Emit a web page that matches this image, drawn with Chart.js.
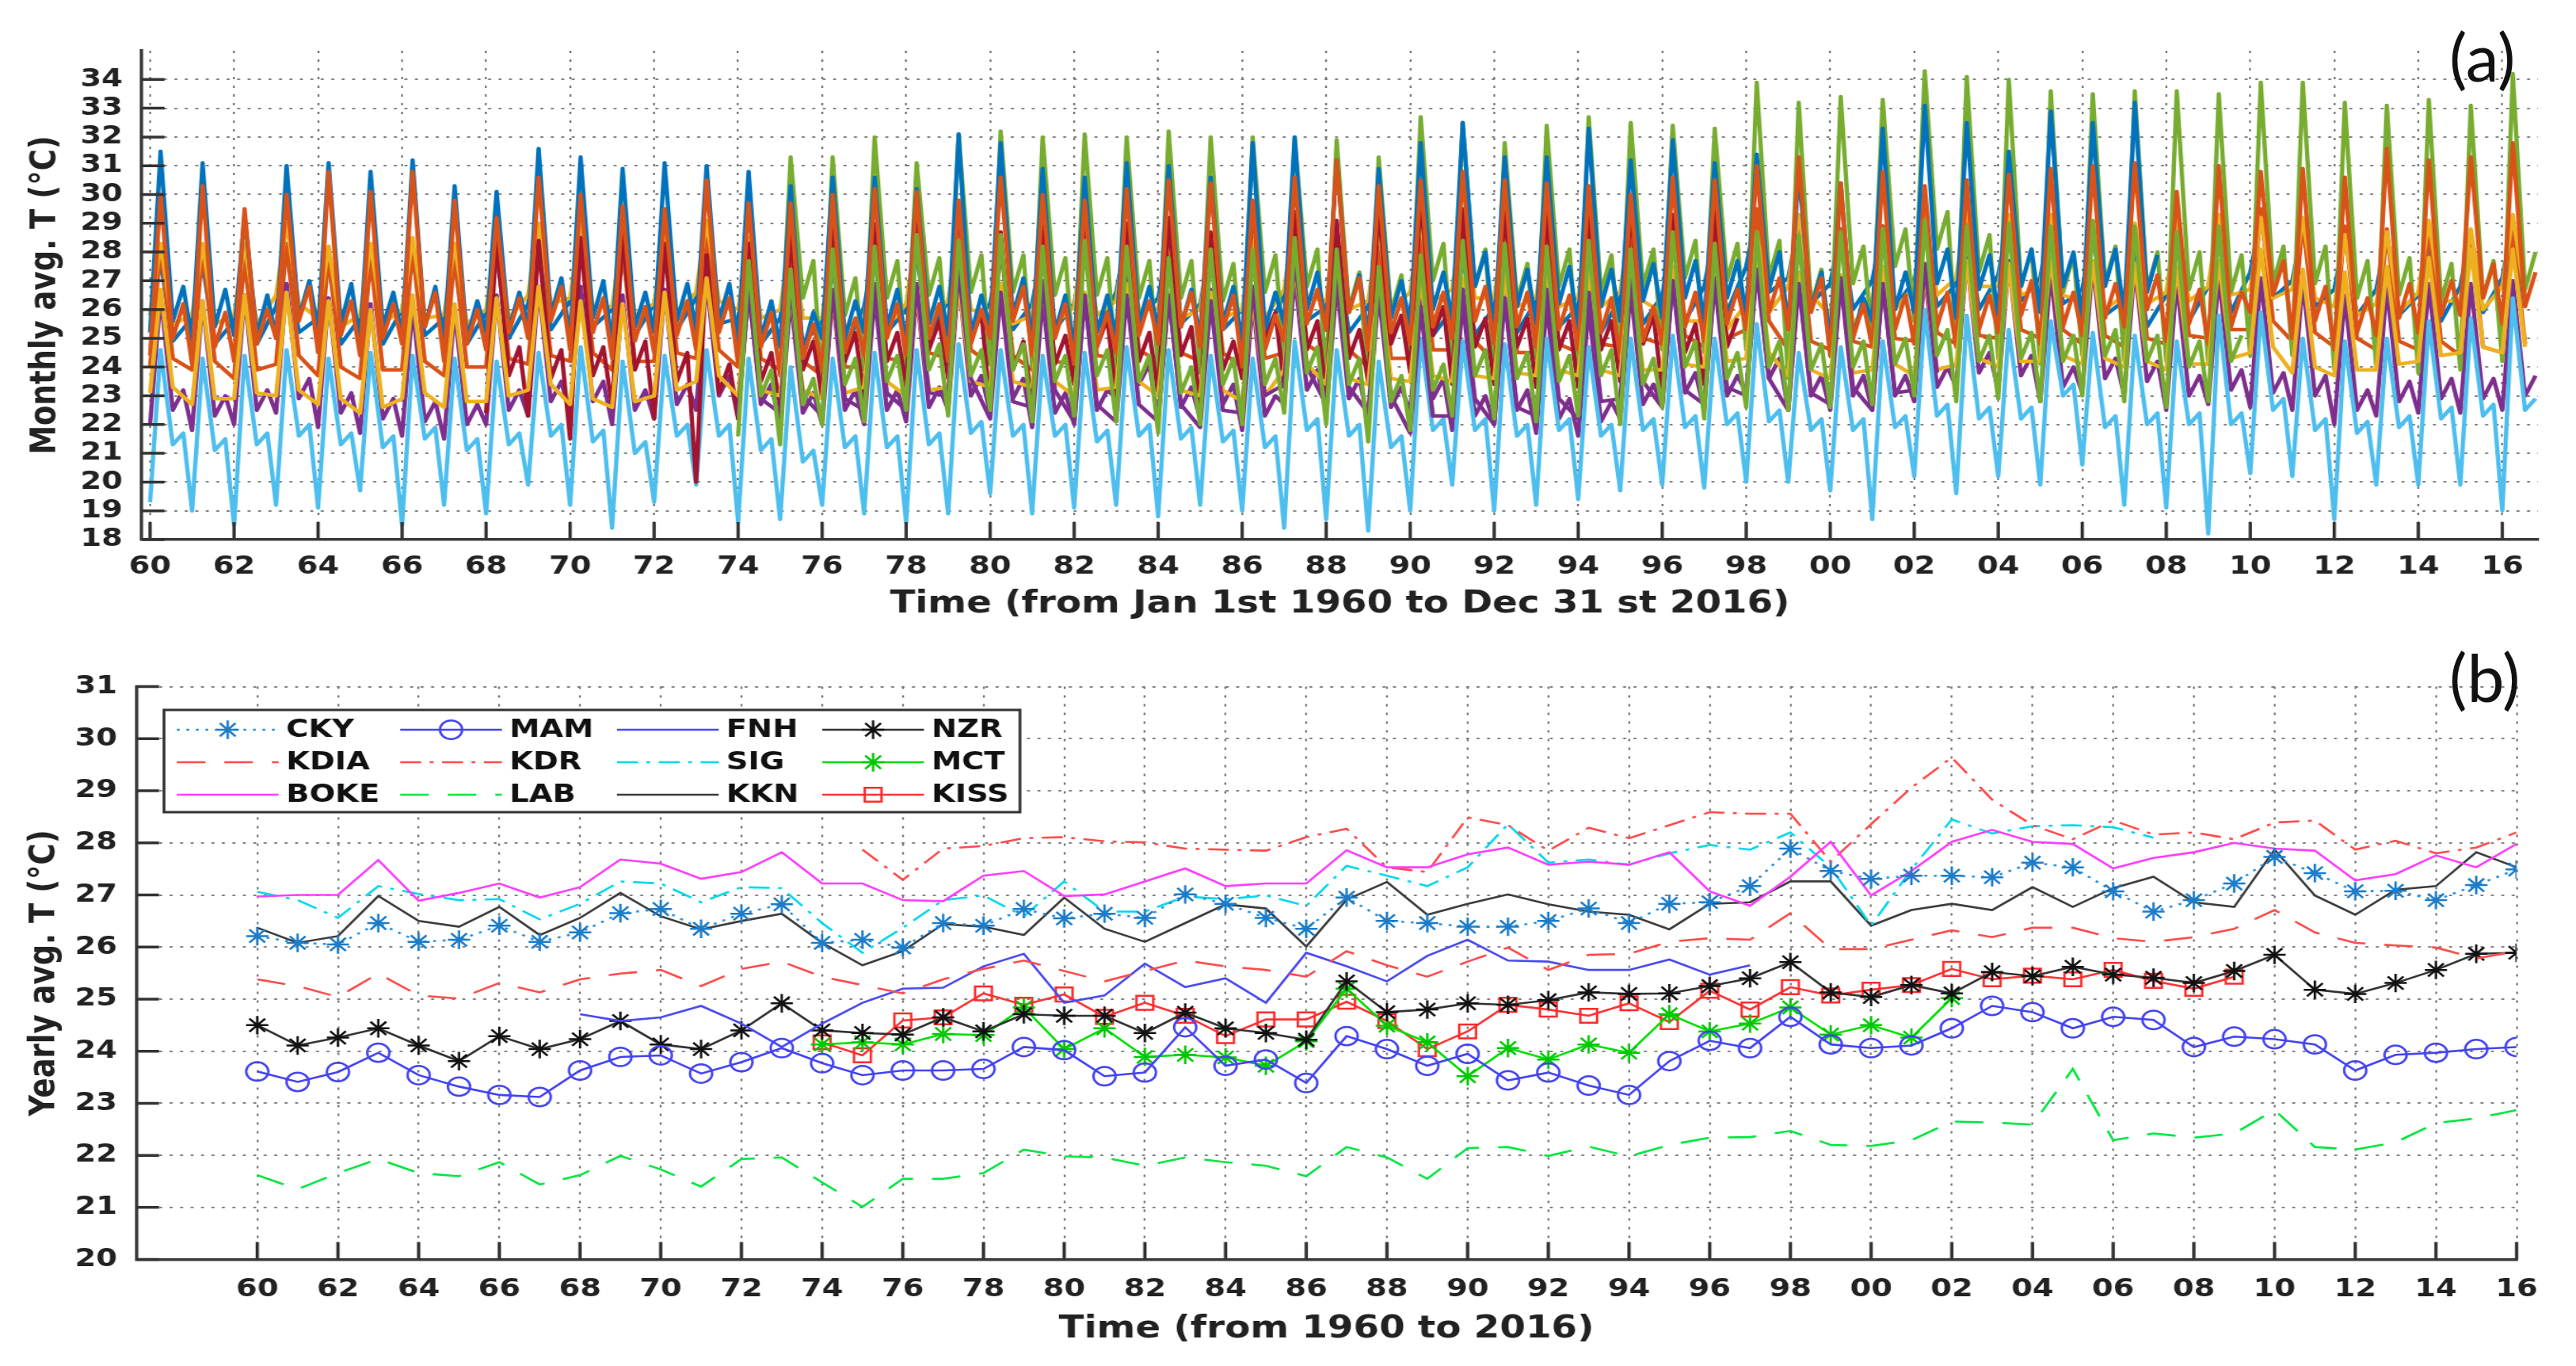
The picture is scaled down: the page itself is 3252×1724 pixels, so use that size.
<!DOCTYPE html>
<html>
<head>
<meta charset="utf-8">
<script src="https://cdn.jsdelivr.net/npm/chart.js@4.4.1/dist/chart.umd.min.js"></script>
<style>
html, body { margin: 0; padding: 0; background: #fff; }
#wrap { position: relative; width: 3252px; height: 1724px; overflow: hidden; background: #fff; }
canvas { position: absolute; left: 0; display: block; }
.tag { position: absolute; font-family: Lato, "Open Sans", sans-serif; font-size: 84px; line-height: 1; color: #111; }
</style>
</head>
<body>
<div id="wrap">
  <canvas id="ca" width="2710" height="800" style="top:0;width:3252px;height:800px"></canvas>
  <canvas id="cb" width="2710" height="924" style="top:800px;width:3252px;height:924px"></canvas>
  <div class="tag" style="left:3092px;top:29px">(a)</div>
  <div class="tag" style="left:3092px;top:812px">(b)</div>
</div>
<script>
// stations, in the order they were plotted
const stations = ['CKY', 'KDIA', 'BOKE', 'MAM', 'KDR', 'LAB', 'FNH', 'SIG', 'KKN', 'NZR', 'MCT', 'KISS']
const firstYear = [1960, 1960, 1960, 1960, 1975, 1960, 1968, 1960, 1960, 1960, 1974, 1974]

const tickYears = [1960, 1962, 1964, 1966, 1968, 1970, 1972, 1974, 1976, 1978, 1980, 1982, 1984, 1986, 1988,
  1990, 1992, 1994, 1996, 1998, 2000, 2002, 2004, 2006, 2008, 2010, 2012, 2014, 2016]
const tempTicksA = [18, 19, 20, 21, 22, 23, 24, 25, 26, 27, 28, 29, 30, 31, 32, 33, 34]
const tempTicksB = [20, 21, 22, 23, 24, 25, 26, 27, 28, 29, 30, 31]

// (b) yearly averages
const yrCKY = [26.21, 26.08, 26.05, 26.46, 26.10, 26.14, 26.41, 26.10, 26.28, 26.65,
  26.73, 26.35, 26.64, 26.82, 26.08, 26.14, 25.99, 26.46, 26.41, 26.73,
  26.55, 26.64, 26.56, 27.01, 26.83, 26.56, 26.35, 26.95, 26.50, 26.46,
  26.39, 26.39, 26.50, 26.74, 26.46, 26.83, 26.86, 27.17, 27.89, 27.46,
  27.31, 27.37, 27.37, 27.34, 27.62, 27.53, 27.07, 26.68, 26.90, 27.22,
  27.73, 27.42, 27.07, 27.08, 26.90, 27.19, 27.49]
const yrKDIA = [25.38, 25.25, 25.04, 25.49, 25.07, 25.01, 25.31, 25.13, 25.38, 25.49,
  25.56, 25.25, 25.58, 25.72, 25.43, 25.27, 25.11, 25.38, 25.58, 25.74,
  25.54, 25.34, 25.54, 25.74, 25.63, 25.56, 25.43, 25.92, 25.65, 25.43,
  25.72, 25.99, 25.56, 25.85, 25.87, 26.10, 26.17, 26.14, 26.65, 25.96,
  25.96, 26.14, 26.32, 26.19, 26.37, 26.37, 26.17, 26.10, 26.19, 26.35,
  26.71, 26.28, 26.08, 26.03, 25.99, 25.78, 25.92]
const yrBOKE = [26.97, 27.00, 27.00, 27.67, 26.89, 27.04, 27.22, 26.95, 27.15, 27.68,
  27.60, 27.31, 27.44, 27.82, 27.22, 27.22, 26.90, 26.88, 27.37, 27.46,
  26.98, 27.01, 27.26, 27.51, 27.17, 27.22, 27.22, 27.86, 27.53, 27.53,
  27.78, 27.91, 27.58, 27.64, 27.58, 27.82, 27.07, 26.79, 27.35, 28.02,
  26.99, 27.46, 28.02, 28.25, 28.02, 27.98, 27.51, 27.71, 27.82, 28.00,
  27.89, 27.85, 27.28, 27.40, 27.76, 27.53, 27.98]
const yrMAM = [23.61, 23.41, 23.60, 23.97, 23.54, 23.32, 23.16, 23.12, 23.63, 23.89,
  23.92, 23.57, 23.79, 24.06, 23.77, 23.54, 23.63, 23.63, 23.66, 24.08,
  24.02, 23.52, 23.59, 24.46, 23.72, 23.84, 23.39, 24.29, 24.04, 23.72,
  23.95, 23.44, 23.59, 23.34, 23.16, 23.81, 24.20, 24.06, 24.66, 24.13,
  24.06, 24.11, 24.44, 24.87, 24.75, 24.44, 24.66, 24.60, 24.08, 24.28,
  24.23, 24.13, 23.63, 23.93, 23.97, 24.04, 24.08]
const yrKDR = [27.87, 27.29, 27.89, 27.94, 28.09,
  28.11, 28.03, 28.01, 27.89, 27.87, 27.85, 28.11, 28.27, 27.53, 27.44,
  28.49, 28.34, 27.85, 28.29, 28.09, 28.34, 28.59, 28.56, 28.56, 27.64,
  28.36, 29.06, 29.64, 28.83, 28.34, 28.07, 28.43, 28.16, 28.20, 28.07,
  28.39, 28.43, 27.87, 28.04, 27.80, 27.91, 28.20]
const yrLAB = [21.62, 21.35, 21.66, 21.93, 21.66, 21.60, 21.87, 21.44, 21.62, 21.99,
  21.73, 21.40, 21.93, 21.96, 21.48, 21.01, 21.55, 21.55, 21.66, 22.11,
  21.98, 21.96, 21.80, 21.96, 21.87, 21.80, 21.60, 22.16, 21.96, 21.55,
  22.14, 22.16, 21.99, 22.17, 21.98, 22.20, 22.34, 22.35, 22.47, 22.20,
  22.18, 22.29, 22.65, 22.63, 22.59, 23.66, 22.29, 22.42, 22.34, 22.42,
  22.87, 22.16, 22.11, 22.25, 22.62, 22.71, 22.87]
const yrFNH = [24.71, 24.58,
  24.65, 24.87, 24.53, 24.08, 24.53, 24.93, 25.20, 25.22, 25.63, 25.87,
  24.93, 25.07, 25.68, 25.23, 25.40, 24.93, 25.89, 25.63, 25.34, 25.83,
  26.14, 25.74, 25.72, 25.56, 25.56, 25.76, 25.47, 25.65]
const yrSIG = [27.06, 26.90, 26.56, 27.17, 27.02, 26.90, 26.92, 26.53, 26.83, 27.26,
  27.22, 26.86, 27.15, 27.13, 26.46, 25.89, 26.37, 26.90, 26.99, 26.59,
  27.26, 26.68, 26.68, 26.97, 26.92, 26.99, 26.79, 27.56, 27.37, 27.17,
  27.53, 28.36, 27.62, 27.68, 27.58, 27.80, 27.96, 27.87, 28.20, 27.53,
  26.41, 27.49, 28.45, 28.18, 28.32, 28.34, 28.30, 28.10]
const yrKKN = [26.37, 26.08, 26.21, 26.98, 26.50, 26.39, 26.77, 26.23, 26.56, 27.04,
  26.59, 26.34, 26.50, 26.64, 26.08, 25.65, 25.92, 26.44, 26.39, 26.23,
  26.95, 26.35, 26.10, 26.46, 26.82, 26.74, 26.01, 26.91, 27.25, 26.62,
  26.83, 27.01, 26.82, 26.68, 26.62, 26.34, 26.83, 26.86, 27.26, 27.26,
  26.41, 26.71, 26.83, 26.71, 27.15, 26.77, 27.13, 27.35, 26.86, 26.77,
  27.87, 26.99, 26.62, 27.10, 27.17, 27.82, 27.53]
const yrNZR = [24.50, 24.11, 24.26, 24.44, 24.11, 23.81, 24.29, 24.04, 24.23, 24.58,
  24.13, 24.04, 24.40, 24.92, 24.40, 24.35, 24.32, 24.65, 24.38, 24.71,
  24.68, 24.68, 24.35, 24.74, 24.44, 24.35, 24.22, 25.34, 24.75, 24.80,
  24.92, 24.89, 24.98, 25.13, 25.10, 25.11, 25.25, 25.40, 25.71, 25.13,
  25.04, 25.27, 25.11, 25.52, 25.44, 25.62, 25.47, 25.41, 25.31, 25.54,
  25.85, 25.18, 25.10, 25.31, 25.56, 25.87, 25.89]
const yrMCT = [24.13, 24.17, 24.13, 24.33, 24.31, 24.84,
  24.04, 24.44, 23.89, 23.93, 23.88, 23.72, 24.19, 25.20, 24.49, 24.17,
  23.52, 24.06, 23.84, 24.13, 23.97, 24.71, 24.38, 24.53, 24.84, 24.32,
  24.50, 24.26, 25.02]
const yrKISS = [24.17, 23.92, 24.59, 24.65, 25.11, 24.89,
  25.09, 24.66, 24.93, 24.68, 24.29, 24.61, 24.61, 24.95, 24.58, 24.04,
  24.38, 24.89, 24.80, 24.68, 24.92, 24.56, 25.16, 24.80, 25.23, 25.07,
  25.18, 25.27, 25.58, 25.38, 25.45, 25.38, 25.56, 25.35, 25.20, 25.43]

// (a) monthly curve, read per year: January low, April peak, mid-year dip, October bump
const sampleMonths = [0, 3, 6.5, 9.5]

const lowCKY = [25.8, 25.7, 25.6, 26.1, 25.7, 25.7, 26.0, 25.7, 25.9, 26.2, 26.3, 26.0, 26.2, 26.4, 25.7, 25.7, 25.6, 26.1, 26.0, 26.3,
  26.2, 26.2, 26.2, 26.6, 26.4, 26.2, 26.0, 26.5, 26.1, 26.1, 26.0, 26.0, 26.1, 26.3, 26.1, 26.4, 26.5, 26.8, 27.5, 27.1,
  26.9, 27.0, 27.0, 26.9, 27.2, 27.1, 26.7, 26.3, 26.5, 26.8, 27.3, 27.0, 26.7, 26.7, 26.5, 26.8, 27.1]
const peakCKY = [27.7, 27.6, 27.5, 28.0, 27.6, 27.7, 27.9, 27.6, 27.8, 28.2, 28.2, 27.9, 28.1, 28.3, 27.6, 27.7, 27.5, 28.0, 27.9, 28.2,
  28.1, 28.1, 28.1, 28.5, 28.3, 28.1, 27.8, 28.5, 28.0, 28.0, 27.9, 27.9, 28.0, 28.2, 28.0, 28.3, 28.4, 28.7, 29.4, 29.0,
  28.8, 28.9, 28.9, 28.8, 29.1, 29.0, 28.6, 28.2, 28.4, 28.7, 29.2, 28.9, 28.6, 28.6, 28.4, 28.7, 29.0]
const dipCKY = [24.9, 24.8, 24.8, 25.2, 24.8, 24.8, 25.1, 24.8, 25.0, 25.3, 25.4, 25.1, 25.3, 25.5, 24.8, 24.8, 24.7, 25.2, 25.1, 25.4,
  25.3, 25.3, 25.3, 25.7, 25.5, 25.3, 25.1, 25.6, 25.2, 25.2, 25.1, 25.1, 25.2, 25.4, 25.2, 25.5, 25.6, 25.9, 26.6, 26.2,
  26.0, 26.1, 26.1, 26.0, 26.3, 26.2, 25.8, 25.4, 25.6, 25.9, 26.4, 26.1, 25.8, 25.8, 25.6, 25.9, 26.2]

const lowKDIA = [24.0, 23.9, 23.6, 24.1, 23.7, 23.6, 23.9, 23.7, 24.0, 24.1, 24.2, 23.9, 24.2, 24.3, 24.0, 23.9, 23.7, 24.0, 24.2, 24.3,
  24.1, 23.9, 24.1, 24.3, 24.2, 24.2, 24.0, 24.5, 24.3, 24.0, 24.3, 24.6, 24.2, 24.5, 24.5, 24.7, 24.8, 24.7, 25.3, 24.6,
  24.6, 24.7, 24.9, 24.8, 25.0, 25.0, 24.8, 24.7, 24.8, 25.0, 25.3, 24.9, 24.7, 24.6, 24.6, 24.4, 24.5]
const peakKDIA = [28.2, 28.1, 27.8, 28.3, 27.9, 27.8, 28.1, 27.9, 28.2, 28.3, 28.4, 28.1, 28.4, 28.5, 28.2, 28.1, 27.9, 28.2, 28.4, 28.5,
  28.3, 28.1, 28.3, 28.5, 28.4, 28.4, 28.2, 28.7, 28.5, 28.2, 28.5, 28.8, 28.4, 28.7, 28.7, 28.9, 29.0, 28.9, 29.5, 28.8,
  28.8, 28.9, 29.1, 29.0, 29.2, 29.2, 29.0, 28.9, 29.0, 29.2, 29.5, 29.1, 28.9, 28.8, 28.8, 28.6, 28.7]
const dipKDIA = [24.3, 24.2, 23.9, 24.4, 24.0, 23.9, 24.2, 24.0, 24.3, 24.4, 24.5, 24.2, 24.5, 24.6, 24.3, 24.2, 24.0, 24.3, 24.5, 24.6,
  24.4, 24.2, 24.4, 24.6, 24.5, 24.5, 24.3, 24.8, 24.6, 24.3, 24.6, 24.9, 24.5, 24.8, 24.8, 25.0, 25.1, 25.0, 25.6, 24.9,
  24.9, 25.0, 25.2, 25.1, 25.3, 25.3, 25.1, 25.0, 25.1, 25.3, 25.6, 25.2, 25.0, 24.9, 24.9, 24.7, 24.8]

const lowBOKE = [25.8, 25.8, 25.8, 26.5, 25.7, 25.8, 26.0, 25.8, 26.0, 26.5, 26.4, 26.1, 26.2, 26.6, 26.0, 26.0, 25.7, 25.7, 26.2, 26.3,
  25.8, 25.8, 26.1, 26.3, 26.0, 26.0, 26.0, 26.7, 26.3, 26.3, 26.6, 26.7, 26.4, 26.4, 26.4, 26.6, 25.9, 25.6, 26.2, 26.8,
  25.8, 26.3, 26.8, 27.1, 26.8, 26.8, 26.3, 26.5, 26.6, 26.8, 26.7, 26.7, 26.1, 26.2, 26.6, 26.3, 26.8]
const peakBOKE = [28.3, 28.3, 28.3, 29.0, 28.2, 28.3, 28.5, 28.3, 28.5, 29.0, 28.9, 28.6, 28.7, 29.1, 28.5, 28.5, 28.2, 28.2, 28.7, 28.8,
  28.3, 28.3, 28.6, 28.8, 28.5, 28.5, 28.5, 29.2, 28.8, 28.8, 29.1, 29.2, 28.9, 28.9, 28.9, 29.1, 28.4, 28.1, 28.7, 29.3,
  28.3, 28.8, 29.3, 29.6, 29.3, 29.3, 28.8, 29.0, 29.1, 29.3, 29.2, 29.2, 28.6, 28.7, 29.1, 28.8, 29.3]
const dipBOKE = [25.5, 25.5, 25.5, 26.2, 25.4, 25.5, 25.7, 25.5, 25.7, 26.2, 26.1, 25.8, 25.9, 26.3, 25.7, 25.7, 25.4, 25.4, 25.9, 26.0,
  25.5, 25.5, 25.8, 26.0, 25.7, 25.7, 25.7, 26.4, 26.0, 26.0, 26.3, 26.4, 26.1, 26.1, 26.1, 26.3, 25.6, 25.3, 25.9, 26.5,
  25.5, 26.0, 26.5, 26.8, 26.5, 26.5, 26.0, 26.2, 26.3, 26.5, 26.4, 26.4, 25.8, 25.9, 26.3, 26.0, 26.5]

const lowMAM = [22.0, 21.8, 22.0, 22.4, 21.9, 21.7, 21.6, 21.5, 22.0, 22.3, 22.3, 22.0, 22.2, 22.5, 22.2, 21.9, 22.0, 22.0, 22.1, 22.5,
  22.4, 21.9, 22.0, 22.9, 22.1, 22.2, 21.8, 22.7, 22.4, 22.1, 22.4, 21.8, 22.0, 21.7, 21.6, 22.2, 22.6, 22.5, 23.1, 22.5,
  22.5, 22.5, 22.8, 23.3, 23.2, 22.8, 23.1, 23.0, 22.5, 22.7, 22.6, 22.5, 22.0, 22.3, 22.4, 22.4, 22.5]
const peakMAM = [26.5, 26.3, 26.5, 26.9, 26.4, 26.2, 26.1, 26.0, 26.5, 26.8, 26.8, 26.5, 26.7, 27.0, 26.7, 26.4, 26.5, 26.5, 26.6, 27.0,
  26.9, 26.4, 26.5, 27.4, 26.6, 26.7, 26.3, 27.2, 26.9, 26.6, 26.9, 26.3, 26.5, 26.2, 26.1, 26.7, 27.1, 27.0, 27.6, 27.0,
  27.0, 27.0, 27.3, 27.8, 27.7, 27.3, 27.6, 27.5, 27.0, 27.2, 27.1, 27.0, 26.5, 26.8, 26.9, 26.9, 27.0]
const dipMAM = [22.5, 22.3, 22.5, 22.9, 22.4, 22.2, 22.1, 22.0, 22.5, 22.8, 22.8, 22.5, 22.7, 23.0, 22.7, 22.4, 22.5, 22.5, 22.6, 23.0,
  22.9, 22.4, 22.5, 23.4, 22.6, 22.7, 22.3, 23.2, 22.9, 22.6, 22.9, 22.3, 22.5, 22.2, 22.1, 22.7, 23.1, 23.0, 23.6, 23.0,
  23.0, 23.0, 23.3, 23.8, 23.7, 23.3, 23.6, 23.5, 23.0, 23.2, 23.1, 23.0, 22.5, 22.8, 22.9, 22.9, 23.0]
const bumpMAM = [23.2, 23.0, 23.2, 23.6, 23.1, 22.9, 22.8, 22.7, 23.2, 23.5, 23.5, 23.2, 23.4, 23.7, 23.4, 23.1, 23.2, 23.2, 23.3, 23.7,
  23.6, 23.1, 23.2, 24.1, 23.3, 23.4, 23.0, 23.9, 23.6, 23.3, 23.6, 23.0, 23.2, 22.9, 22.8, 23.4, 23.8, 23.7, 24.3, 23.7,
  23.7, 23.7, 24.0, 24.5, 24.4, 24.0, 24.3, 24.2, 23.7, 23.9, 23.8, 23.7, 23.2, 23.5, 23.6, 23.6, 23.7]

const lowKDR = [23.9, 23.3, 23.9, 24.0, 24.1,
  24.1, 24.0, 24.0, 23.9, 23.9, 23.8, 24.1, 24.3, 23.5, 23.4, 24.5, 24.3, 23.8, 24.3, 24.1, 24.3, 24.6, 24.5, 24.6, 23.6,
  24.4, 25.0, 25.6, 24.8, 24.3, 24.1, 24.4, 24.2, 24.2, 24.1, 24.4, 24.4, 23.9, 24.0, 23.8, 23.9, 24.2]
const peakKDR = [31.3, 31.3, 32.0, 31.1, 32.1,
  32.2, 32.0, 32.1, 32.0, 32.2, 32.0, 32.0, 32.0, 31.9, 31.3, 32.7, 32.5, 31.8, 32.4, 32.7, 32.5, 32.4, 32.3, 33.9, 33.2,
  33.4, 33.3, 34.3, 34.1, 34.0, 33.6, 33.5, 33.6, 33.6, 33.5, 33.9, 33.9, 33.2, 33.1, 33.3, 33.1, 34.2]
const dipKDR = [26.4, 25.8, 26.4, 26.5, 26.6,
  26.6, 26.5, 26.5, 26.4, 26.4, 26.3, 26.6, 26.8, 26.0, 25.9, 27.0, 26.8, 26.3, 26.8, 26.6, 26.8, 27.1, 27.0, 27.1, 26.1,
  26.9, 27.5, 28.1, 27.3, 26.8, 26.6, 26.9, 26.7, 26.7, 26.6, 26.9, 26.9, 26.4, 26.5, 26.3, 26.4, 26.7]
const bumpKDR = [27.7, 27.1, 27.7, 27.8, 27.9,
  27.9, 27.8, 27.8, 27.7, 27.7, 27.6, 27.9, 28.1, 27.3, 27.2, 28.3, 28.1, 27.6, 28.1, 27.9, 28.1, 28.4, 28.3, 28.4, 27.4,
  28.2, 28.8, 29.4, 28.6, 28.1, 27.9, 28.2, 28.0, 28.0, 27.9, 28.2, 28.2, 27.7, 27.8, 27.6, 27.7, 28.0]

const lowLAB = [19.3, 19.0, 18.5, 19.2, 19.1, 19.7, 18.5, 19.2, 18.9, 19.9, 19.2, 18.4, 19.3, 19.9, 18.6, 18.7, 19.2, 18.9, 18.6, 18.9,
  19.6, 18.9, 19.1, 19.2, 18.8, 19.2, 19.0, 18.4, 18.7, 18.3, 19.0, 19.9, 19.0, 19.2, 19.4, 19.7, 19.9, 19.8, 20.0, 20.0,
  19.7, 18.7, 20.2, 19.6, 20.2, 19.9, 20.6, 19.2, 19.1, 18.2, 20.3, 20.2, 18.7, 19.9, 19.9, 19.9, 19.0]
const peakLAB = [24.6, 24.3, 24.4, 24.6, 24.3, 24.5, 24.4, 24.3, 24.2, 24.5, 24.7, 24.2, 24.4, 24.6, 24.3, 24.0, 24.3, 24.5, 24.6, 24.8,
  24.6, 24.4, 24.5, 24.7, 24.6, 24.4, 24.3, 24.9, 24.6, 24.2, 25.0, 24.9, 24.8, 25.0, 24.7, 25.0, 25.1, 25.0, 25.5, 24.5,
  24.7, 24.9, 26.0, 25.8, 25.3, 25.6, 25.2, 25.1, 24.9, 25.8, 25.9, 25.0, 24.9, 25.0, 25.6, 25.7, 26.4]
const dipLAB = [21.3, 21.1, 21.3, 21.6, 21.3, 21.2, 21.5, 21.1, 21.3, 21.6, 21.4, 21.0, 21.6, 21.6, 21.1, 20.7, 21.2, 21.2, 21.3, 21.7,
  21.6, 21.6, 21.4, 21.6, 21.5, 21.4, 21.2, 21.8, 21.6, 21.2, 21.8, 21.8, 21.6, 21.8, 21.6, 21.8, 21.9, 22.0, 22.1, 21.8,
  21.8, 21.9, 22.3, 22.2, 22.2, 23.0, 21.9, 22.0, 22.0, 22.0, 22.5, 21.8, 21.7, 21.9, 22.2, 22.3, 22.5]
const bumpLAB = [21.7, 21.5, 21.7, 22.0, 21.7, 21.6, 21.9, 21.5, 21.7, 22.0, 21.8, 21.4, 22.0, 22.0, 21.5, 21.1, 21.6, 21.6, 21.7, 22.1,
  22.0, 22.0, 21.8, 22.0, 21.9, 21.8, 21.6, 22.2, 22.0, 21.6, 22.2, 22.2, 22.0, 22.2, 22.0, 22.2, 22.3, 22.4, 22.5, 22.2,
  22.2, 22.3, 22.7, 22.6, 22.6, 23.4, 22.3, 22.4, 22.4, 22.4, 22.9, 22.2, 22.1, 22.3, 22.6, 22.7, 22.9]

const lowFNH = [22.4, 22.3,
  21.5, 22.6, 22.2, 20.0, 22.2, 22.6, 22.9, 22.9, 23.3, 23.6, 22.6, 22.8, 23.4, 22.9, 23.1, 22.6, 23.6, 23.3, 23.0, 23.5,
  23.8, 23.4, 23.4, 23.3, 23.3, 23.5, 23.2, 23.4]
const peakFNH = [28.5, 28.4,
  28.5, 28.7, 28.3, 27.9, 28.3, 28.7, 29.0, 29.0, 29.4, 29.7, 28.7, 28.9, 29.5, 29.0, 29.2, 28.7, 29.7, 29.4, 29.1, 29.6,
  29.9, 29.5, 29.5, 29.4, 29.4, 29.6, 29.3, 29.5]
const dipFNH = [23.7, 23.6,
  23.7, 23.9, 23.5, 23.1, 23.5, 23.9, 24.2, 24.2, 24.6, 24.9, 23.9, 24.1, 24.7, 24.2, 24.4, 23.9, 24.9, 24.6, 24.3, 24.8,
  25.1, 24.7, 24.7, 24.6, 24.6, 24.8, 24.5, 24.7]
const bumpFNH = [24.7, 24.6,
  24.7, 24.9, 24.5, 24.1, 24.5, 24.9, 25.2, 25.2, 25.6, 25.9, 24.9, 25.1, 25.7, 25.2, 25.4, 24.9, 25.9, 25.6, 25.3, 25.8,
  26.1, 25.7, 25.7, 25.6, 25.6, 25.8, 25.5, 25.7]

const lowSIG = [25.2, 24.9, 25.1, 25.0, 25.3, 24.8, 25.1, 24.9, 25.2, 25.4, 25.0, 24.8, 25.2, 25.3, 24.9, 24.7, 25.0, 25.2, 24.8, 25.1,
  25.3, 24.9, 24.6, 25.0, 25.2, 25.0, 24.8, 25.5, 25.3, 25.0, 25.4, 25.6, 25.2, 25.5, 25.3, 25.6, 25.7, 25.5, 25.8, 25.4,
  24.9, 25.6, 25.9, 25.7, 25.8, 25.9, 25.6, 25.8]
const peakSIG = [31.5, 31.1, 29.3, 31.0, 31.1, 30.8, 31.2, 30.3, 30.1, 31.6, 31.3, 30.9, 31.1, 31.0, 30.8, 30.3, 30.6, 30.6, 30.2, 32.1,
  31.8, 30.9, 30.6, 31.1, 31.0, 30.6, 31.8, 32.0, 31.2, 30.9, 31.8, 32.5, 31.3, 31.3, 32.3, 31.2, 31.9, 31.1, 31.4, 30.8,
  30.4, 32.3, 33.1, 32.5, 31.5, 32.9, 32.5, 33.2]
const dipSIG = [25.6, 25.4, 25.1, 25.7, 25.5, 25.4, 25.4, 25.0, 25.3, 25.8, 25.7, 25.4, 25.6, 25.6, 25.0, 24.5, 25.0, 25.4, 25.5, 25.1,
  25.8, 25.2, 25.2, 25.5, 25.4, 25.5, 25.3, 26.0, 25.9, 25.7, 26.0, 26.8, 26.1, 26.2, 26.1, 26.3, 26.4, 26.4, 26.7, 26.0,
  25.0, 26.0, 26.9, 26.7, 26.8, 26.8, 26.8, 26.6]
const bumpSIG = [26.8, 26.7, 26.5, 27.0, 26.9, 26.6, 26.8, 26.3, 26.6, 27.1, 27.0, 26.6, 26.9, 26.9, 26.3, 25.9, 26.3, 26.7, 26.8, 26.5,
  27.1, 26.5, 26.5, 26.8, 26.7, 26.8, 26.6, 27.3, 27.2, 27.0, 27.3, 28.0, 27.4, 27.5, 27.4, 27.6, 27.7, 27.7, 28.0, 27.3,
  26.4, 27.3, 28.1, 27.9, 28.1, 28.0, 28.1, 27.9]

const lowKKN = [24.4, 24.1, 24.2, 25.0, 24.5, 24.4, 24.8, 24.2, 24.6, 25.0, 24.6, 24.3, 24.5, 24.6, 24.1, 23.7, 23.9, 24.4, 24.4, 24.2,
  25.0, 24.4, 24.1, 24.5, 24.8, 24.7, 24.0, 24.9, 25.3, 24.6, 24.8, 25.0, 24.8, 24.7, 24.6, 24.3, 24.8, 24.9, 25.3, 25.3,
  24.4, 24.7, 24.8, 24.7, 25.2, 24.8, 25.1, 25.4, 24.9, 24.8, 25.9, 25.0, 24.6, 25.1, 25.2, 25.8, 25.5]
const peakKKN = [30.0, 30.3, 29.5, 30.0, 30.8, 30.1, 30.8, 29.8, 29.2, 30.6, 30.0, 29.6, 29.5, 30.5, 29.7, 29.7, 30.0, 30.2, 30.1, 29.8,
  30.6, 30.0, 29.8, 30.2, 30.5, 30.4, 29.8, 30.6, 31.2, 30.3, 30.5, 30.8, 30.5, 30.4, 30.3, 30.0, 30.6, 30.5, 31.0, 31.3,
  30.4, 30.8, 30.3, 30.5, 30.7, 30.9, 31.0, 31.1, 30.1, 31.0, 30.8, 30.9, 30.6, 31.6, 31.2, 31.3, 31.8]
const dipKKN = [25.0, 24.7, 24.8, 25.6, 25.1, 25.0, 25.4, 24.8, 25.2, 25.6, 25.2, 24.9, 25.1, 25.2, 24.7, 24.3, 24.5, 25.0, 25.0, 24.8,
  25.6, 25.0, 24.7, 25.1, 25.4, 25.3, 24.6, 25.5, 25.9, 25.2, 25.4, 25.6, 25.4, 25.3, 25.2, 24.9, 25.4, 25.5, 25.9, 25.9,
  25.0, 25.3, 25.4, 25.3, 25.8, 25.4, 25.7, 26.0, 25.5, 25.4, 26.5, 25.6, 25.2, 25.7, 25.8, 26.4, 26.1]
const bumpKKN = [26.2, 25.9, 26.0, 26.8, 26.3, 26.2, 26.6, 26.0, 26.4, 26.8, 26.4, 26.1, 26.3, 26.4, 25.9, 25.5, 25.7, 26.2, 26.2, 26.0,
  26.8, 26.2, 25.9, 26.3, 26.6, 26.5, 25.8, 26.7, 27.1, 26.4, 26.6, 26.8, 26.6, 26.5, 26.4, 26.1, 26.6, 26.7, 27.1, 27.1,
  26.2, 26.5, 26.6, 26.5, 27.0, 26.6, 26.9, 27.2, 26.7, 26.6, 27.7, 26.8, 26.4, 26.9, 27.0, 27.6, 27.3]

const lowNZR = [23.1, 22.7, 22.9, 23.0, 22.7, 22.4, 22.9, 22.6, 22.8, 23.2, 22.7, 22.6, 23.0, 23.5, 23.0, 23.0, 22.9, 23.3, 23.0, 23.3,
  23.3, 23.3, 23.0, 23.3, 23.0, 23.0, 22.8, 23.9, 23.4, 23.4, 23.5, 23.5, 23.6, 23.7, 23.7, 23.7, 23.9, 24.0, 24.3, 23.7,
  23.6, 23.9, 23.7, 24.1, 24.0, 24.2, 24.1, 24.0, 23.9, 24.1, 24.5, 23.8, 23.7, 23.9, 24.2, 24.5, 24.5]
const peakNZR = [26.7, 26.3, 26.5, 26.6, 26.3, 26.0, 26.5, 26.2, 26.4, 26.8, 26.3, 26.2, 26.6, 27.1, 26.6, 26.6, 26.5, 26.9, 26.6, 26.9,
  26.9, 26.9, 26.6, 26.9, 26.6, 26.6, 26.4, 27.5, 27.0, 27.0, 27.1, 27.1, 27.2, 27.3, 27.3, 27.3, 27.5, 27.6, 27.9, 27.3,
  27.2, 27.5, 27.3, 27.7, 27.6, 27.8, 27.7, 27.6, 27.5, 27.7, 28.1, 27.4, 27.3, 27.5, 27.8, 28.1, 28.1]
const dipNZR = [23.3, 22.9, 23.1, 23.2, 22.9, 22.6, 23.1, 22.8, 23.0, 23.4, 22.9, 22.8, 23.2, 23.7, 23.2, 23.2, 23.1, 23.5, 23.2, 23.5,
  23.5, 23.5, 23.2, 23.5, 23.2, 23.2, 23.0, 24.1, 23.6, 23.6, 23.7, 23.7, 23.8, 23.9, 23.9, 23.9, 24.1, 24.2, 24.5, 23.9,
  23.8, 24.1, 23.9, 24.3, 24.2, 24.4, 24.3, 24.2, 24.1, 24.3, 24.7, 24.0, 23.9, 24.1, 24.4, 24.7, 24.7]

const lowMCT = [22.3, 22.4, 22.3, 22.5, 22.5, 23.0,
  22.2, 22.6, 22.1, 22.1, 22.1, 21.9, 22.4, 23.4, 22.7, 22.4, 21.7, 22.3, 22.0, 22.3, 22.2, 22.9, 22.6, 22.7, 23.0, 22.5,
  22.7, 22.5, 23.2]
const peakMCT = [26.7, 26.8, 26.7, 26.9, 26.9, 27.4,
  26.6, 27.0, 26.5, 26.5, 26.5, 26.3, 26.8, 27.8, 27.1, 26.8, 26.1, 26.7, 26.4, 26.7, 26.6, 27.3, 27.0, 27.1, 27.4, 26.9,
  27.1, 26.9, 27.6]
const dipMCT = [22.9, 23.0, 22.9, 23.1, 23.1, 23.6,
  22.8, 23.2, 22.7, 22.7, 22.7, 22.5, 23.0, 24.0, 23.3, 23.0, 22.3, 22.9, 22.6, 22.9, 22.8, 23.5, 23.2, 23.3, 23.6, 23.1,
  23.3, 23.1, 23.8]

const lowKISS = [21.6, 21.3, 22.0, 22.1, 22.5, 22.3,
  22.5, 22.1, 22.3, 22.1, 21.7, 22.0, 22.0, 22.4, 22.0, 21.4, 21.8, 22.3, 22.2, 22.1, 22.3, 22.0, 22.6, 22.2, 22.6, 22.5,
  22.6, 22.7, 23.0, 22.8, 22.9, 22.8, 23.0, 22.8, 22.6, 22.8]
const peakKISS = [27.7, 27.4, 28.1, 28.2, 28.6, 28.4,
  28.6, 28.2, 28.4, 28.2, 27.8, 28.1, 28.1, 28.5, 28.1, 27.5, 27.9, 28.4, 28.3, 28.2, 28.4, 28.1, 28.7, 28.3, 28.7, 28.6,
  28.7, 28.8, 29.1, 28.9, 29.0, 28.9, 29.1, 28.9, 28.7, 28.9]
const dipKISS = [23.0, 22.7, 23.4, 23.5, 23.9, 23.7,
  23.9, 23.5, 23.7, 23.5, 23.1, 23.4, 23.4, 23.8, 23.4, 22.8, 23.2, 23.7, 23.6, 23.5, 23.7, 23.4, 24.0, 23.6, 24.0, 23.9,
  24.0, 24.1, 24.4, 24.2, 24.3, 24.2, 24.4, 24.2, 24.0, 24.2]
const bumpKISS = [23.9, 23.6, 24.3, 24.4, 24.8, 24.6,
  24.8, 24.4, 24.6, 24.4, 24.0, 24.3, 24.3, 24.7, 24.3, 23.7, 24.1, 24.6, 24.5, 24.4, 24.6, 24.3, 24.9, 24.5, 24.9, 24.8,
  24.9, 25.0, 25.3, 25.1, 25.2, 25.1, 25.3, 25.1, 24.9, 25.1]

const yearly = [yrCKY, yrKDIA, yrBOKE, yrMAM, yrKDR, yrLAB, yrFNH, yrSIG, yrKKN, yrNZR, yrMCT, yrKISS]
const lows = [lowCKY, lowKDIA, lowBOKE, lowMAM, lowKDR, lowLAB, lowFNH, lowSIG, lowKKN, lowNZR, lowMCT, lowKISS]
const peaks = [peakCKY, peakKDIA, peakBOKE, peakMAM, peakKDR, peakLAB, peakFNH, peakSIG, peakKKN, peakNZR, peakMCT, peakKISS]
const dips = [dipCKY, dipKDIA, dipBOKE, dipMAM, dipKDR, dipLAB, dipFNH, dipSIG, dipKKN, dipNZR, dipMCT, dipKISS]
const bumps = [null, null, null, bumpMAM, bumpKDR, bumpLAB, bumpFNH, bumpSIG, bumpKKN, null, null, bumpKISS]

// matlab default colour order for panel (a)
const matlabColors = ['#0072BD', '#D95319', '#EDB120', '#7E2F8E', '#77AC30', '#4DBEEE', '#A2142F']

// line styles of panel (b)
const styleB = {
    CKY:  {color: '#2a8fd8', dash: [3, 7], marker: 'star', markColor: '#1c7cc8'},
    KDIA: {color: '#ff4b4b', dash: [30, 20]},
    BOKE: {color: '#ff3dff', dash: []},
    MAM:  {color: '#4343f4', dash: [], marker: 'circle', markColor: '#4343f4'},
    KDR:  {color: '#ff4b4b', dash: [22, 9, 4, 9]},
    LAB:  {color: '#00e640', dash: [30, 20]},
    FNH:  {color: '#4a4af2', dash: []},
    SIG:  {color: '#00d8ec', dash: [22, 9, 4, 9]},
    KKN:  {color: '#3c3c3c', dash: []},
    NZR:  {color: '#333333', dash: [], marker: 'star', markColor: '#111111'},
    MCT:  {color: '#00e000', dash: [], marker: 'star', markColor: '#00c800'},
    KISS: {color: '#ff3333', dash: [], marker: 'rect', markColor: '#ff2a2a'}
}

function seasonal(first, low, peak, dip, bump) {
    const pts = []
    low.forEach((v, i) => {
        const yr = first + i
        const vals = bump ? [v, peak[i], dip[i], bump[i]] : [v, peak[i], dip[i]]
        vals.forEach((t, k) => pts.push({x: yr + sampleMonths[k] / 12, y: t}))
    })
    return pts
}

const tickFont = {family: 'DejaVu Sans', weight: 'bold', size: 32}

// ticks drawn inside the axes, like the original
const inwardTicks = {
    id: 'inwardTicks',
    afterDatasetsDraw(chart) {
        const {ctx, chartArea: a} = chart
        const xs = chart.scales.x, ys = chart.scales.y
        ctx.save()
        ctx.strokeStyle = '#333'
        ctx.lineWidth = 3.5
        ctx.beginPath()
        xs.ticks.forEach(t => {
            const px = xs.getPixelForValue(t.value)
            ctx.moveTo(px, a.bottom)
            ctx.lineTo(px, a.bottom - 22)
        })
        ys.ticks.forEach(t => {
            const py = ys.getPixelForValue(t.value)
            ctx.moveTo(a.left, py)
            ctx.lineTo(a.left + 24, py)
        })
        ctx.stroke()
        ctx.restore()
    }
}

// 4 column legend box of panel (b)
const boxLegend = {
    id: 'boxLegend',
    afterDraw(chart, args, opts) {
        const ctx = chart.ctx
        ctx.save()
        ctx.fillStyle = '#fff'
        ctx.fillRect(opts.left, opts.top, opts.width, opts.height)
        ctx.strokeStyle = '#333'
        ctx.lineWidth = 3
        ctx.strokeRect(opts.left, opts.top, opts.width, opts.height)
        chart.data.datasets.forEach((ds, i) => {
            const x0 = opts.cols[Math.floor(i / 3)]
            const yy = opts.rows[i % 3]
            ctx.setLineDash(ds.borderDash || [])
            ctx.strokeStyle = ds.borderColor
            ctx.lineWidth = ds.borderWidth
            ctx.beginPath()
            ctx.moveTo(x0, yy)
            ctx.lineTo(x0 + opts.sample, yy)
            ctx.stroke()
            ctx.setLineDash([])
            if (ds.pointRadius > 0) {
                ctx.strokeStyle = ds.pointBorderColor
                ctx.fillStyle = 'rgba(0,0,0,0)'
                ctx.lineWidth = ds.pointBorderWidth
                Chart.helpers.drawPoint(ctx, {pointStyle: ds.pointStyle, radius: ds.pointRadius, rotation: 0,
                    borderWidth: ds.pointBorderWidth}, x0 + opts.sample / 2, yy)
            }
            ctx.fillStyle = '#111'
            ctx.font = 'bold 32px "DejaVu Sans"'
            ctx.textBaseline = 'middle'
            ctx.textAlign = 'left'
            ctx.fillText(ds.label, x0 + opts.sample + 8, yy + 1)
        })
        ctx.restore()
    }
}

function scales(o) {
    return {
        x: {
            type: 'linear', min: o.xmin, max: o.xmax,
            afterBuildTicks: s => { s.ticks = tickYears.map(v => ({value: v})) },
            afterFit: s => { s.height = o.xHeight },
            ticks: {autoSkip: false, maxRotation: 0, minRotation: 0, padding: o.xPad, color: '#222', font: tickFont,
                callback: v => String(v).slice(2)},
            grid: {color: '#7a7a7a', lineWidth: 2, drawTicks: false},
            border: {display: true, color: '#3a3a3a', width: 3.5, dash: [3, 8]},
            title: {display: true, text: o.xTitle, color: '#222',
                font: {family: 'DejaVu Sans', weight: 'bold', size: 39}, padding: {top: 0, bottom: o.xTitlePad}}
        },
        y: {
            type: 'linear', min: o.ymin, max: o.ymax,
            afterBuildTicks: s => { s.ticks = o.yTicks.map(v => ({value: v})) },
            afterFit: s => { s.width = o.yWidth },
            ticks: {autoSkip: false, padding: 20, color: '#222', font: tickFont, callback: v => String(v)},
            grid: {color: '#7a7a7a', lineWidth: 2, drawTicks: false},
            border: {display: true, color: '#3a3a3a', width: 3.5, dash: [3, 8]},
            title: {display: true, text: o.yTitle, color: '#222',
                font: {family: 'DejaVu Sans', weight: 'bold', size: 37}, padding: {top: o.yTitlePad, bottom: 0}}
        }
    }
}

const monthlySets = stations.map((name, i) => ({
    label: name,
    data: seasonal(firstYear[i], lows[i], peaks[i], dips[i], bumps[i]),
    borderColor: matlabColors[i % 7],
    borderWidth: 4.5,
    borderJoinStyle: 'round',
    pointRadius: 0,
    tension: 0,
    order: stations.length - i
}))

new Chart(document.getElementById('ca'), {
    type: 'line',
    data: {datasets: monthlySets},
    options: {
        responsive: false, animation: false, devicePixelRatio: 1,
        layout: {padding: {top: 64, right: 40, bottom: 0, left: 0}},
        plugins: {legend: {display: false}, tooltip: {enabled: false}},
        scales: scales({xmin: 1959.8, xmax: 2016.85, ymin: 18, ymax: 35, yTicks: tempTicksA,
            xHeight: 119, yWidth: 149, xPad: 15, xTitlePad: 14, yTitlePad: 26,
            xTitle: 'Time (from Jan 1st 1960 to Dec 31 st 2016)', yTitle: 'Monthly avg. T (°C)'})
    },
    plugins: [inwardTicks]
})

const yearlySets = stations.map((name, i) => {
    const st = styleB[name]
    return {
        label: name,
        data: yearly[i].map((v, k) => ({x: firstYear[i] + k, y: v})),
        borderColor: st.color,
        borderDash: st.dash,
        borderWidth: 2.6,
        pointStyle: st.marker || 'circle',
        pointRadius: st.marker ? (st.marker === 'rect' ? 12.5 : 11.7) : 0,
        pointBorderColor: st.markColor || st.color,
        pointBackgroundColor: 'rgba(0,0,0,0)',
        pointBorderWidth: 2.5,
        tension: 0
    }
})

new Chart(document.getElementById('cb'), {
    type: 'line',
    data: {datasets: yearlySets},
    options: {
        responsive: false, animation: false, devicePixelRatio: 1,
        layout: {padding: {top: 66.6, right: 62.5, bottom: 0, left: 0}},
        plugins: {
            legend: {display: false}, tooltip: {enabled: false},
            boxLegend: {left: 172.5, top: 96, width: 900.5, height: 129, cols: [186, 421, 649, 865],
                rows: [121, 162, 203], sample: 107}
        },
        scales: scales({xmin: 1957, xmax: 2016, ymin: 20, ymax: 31, yTicks: tempTicksB,
            xHeight: 134.4, yWidth: 143.3, xPad: 19, xTitlePad: 23, yTitlePad: 25,
            xTitle: 'Time (from 1960 to 2016)', yTitle: 'Yearly avg. T (°C)'})
    },
    plugins: [inwardTicks, boxLegend]
})
</script>
</body>
</html>
